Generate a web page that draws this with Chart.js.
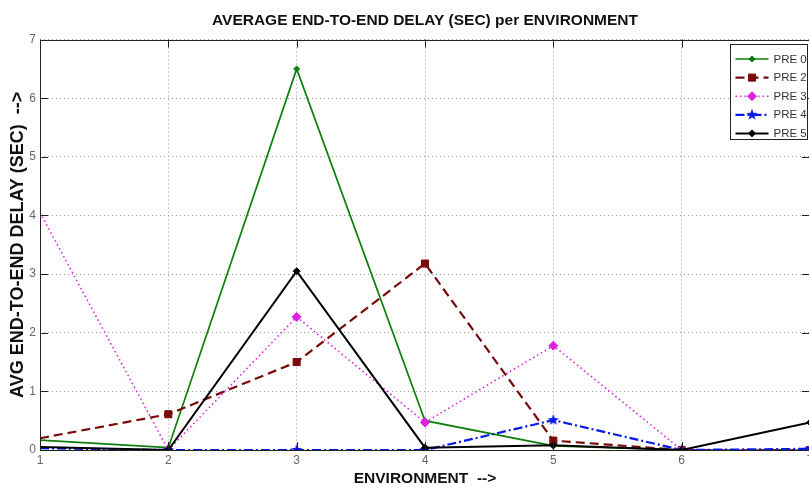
<!DOCTYPE html>
<html>
<head>
<meta charset="utf-8">
<script src="https://cdn.jsdelivr.net/npm/chart.js@4/dist/chart.umd.min.js"></script>
<style>
  html, body { margin: 0; padding: 0; background: #fff; overflow: hidden; }
  #wrap { width: 817px; height: 492px; }
</style>
</head>
<body>
<div id="wrap"><canvas id="c" width="817" height="492"></canvas></div>
<script>
// Average end-to-end delay (seconds) for each environment
const environments = [1, 2, 3, 4, 5, 6, 7];
const pre0 = [0.17, 0.04, 6.5, 0.5, 0.07, 0, 0];
const pre2 = [0.2, 0.61, 1.5, 3.18, 0.16, 0, 0];
const pre3 = [4.05, 0, 2.27, 0.47, 1.78, 0, 0];
const pre4 = [0.03, 0, 0, 0, 0.51, 0, 0.02];
const pre5 = [0.05, 0, 3.05, 0.04, 0.08, 0, 0.47];
const seriesNames = ['PRE 0', 'PRE 2', 'PRE 3', 'PRE 4', 'PRE 5'];
const yTicks = [0, 1, 2, 3, 4, 5, 6, 7];

const FONT = "'Liberation Sans', Arial, sans-serif";

// filled five-pointed star marker
function pentagram(color, r) {
  const s = Math.ceil(r * 2 + 2);
  const cv = document.createElement('canvas');
  cv.width = s; cv.height = s;
  const g = cv.getContext('2d');
  g.fillStyle = color;
  g.beginPath();
  for (let i = 0; i < 10; i++) {
    const rr = i % 2 === 0 ? r : r * 0.42;
    const a = -Math.PI / 2 + i * Math.PI / 5;
    const px = s / 2 + rr * Math.cos(a), py = s / 2 + rr * Math.sin(a);
    if (i === 0) g.moveTo(px, py); else g.lineTo(px, py);
  }
  g.closePath();
  g.fill();
  return cv;
}

const toPoints = vals => environments.map((e, i) => ({ x: e, y: vals[i] }));
const hideFirst = r => ctx => (ctx.dataIndex === 0 ? 0 : r);

const datasets = [
  { label: seriesNames[0], data: toPoints(pre0), borderColor: '#0a800a', backgroundColor: '#0a800a',
    borderWidth: 1.7, pointStyle: 'rectRot', pointRadius: hideFirst(3), order: 5 },
  { label: seriesNames[1], data: toPoints(pre2), borderColor: '#7a0a0a', backgroundColor: '#7a0a0a',
    borderWidth: 2.2, borderDash: [9, 5], pointStyle: 'rect', pointRadius: hideFirst(5), order: 4 },
  { label: seriesNames[2], data: toPoints(pre3), borderColor: '#e020e0', backgroundColor: '#e020e0',
    borderWidth: 1.6, borderDash: [1.5, 3], pointStyle: 'rectRot', pointRadius: hideFirst(4.5), order: 3 },
  { label: seriesNames[3], data: toPoints(pre4), borderColor: '#0a1ae6', backgroundColor: '#0a1ae6',
    borderWidth: 2.2, borderDash: [9, 3, 2, 3], pointStyle: pentagram('#0a1ae6', 6), pointRadius: hideFirst(6), order: 2 },
  { label: seriesNames[4], data: toPoints(pre5), borderColor: '#000', backgroundColor: '#000',
    borderWidth: 2, pointStyle: 'rectRot', pointRadius: hideFirst(3.5), order: 1 }
];
datasets.forEach(d => { d.tension = 0; d.fill = false; d.pointBorderWidth = 1; });

// axes frame with inward tick marks
const framePlugin = {
  id: 'frame',
  afterDatasetsDraw(chart) {
    const { ctx, chartArea: a, scales: { x, y } } = chart;
    ctx.save();
    ctx.strokeStyle = '#222';
    ctx.lineWidth = 1;
    ctx.setLineDash([]);
    ctx.strokeRect(Math.round(a.left) + 0.5, Math.round(a.top) + 0.5,
      Math.round(a.right - a.left), Math.round(a.bottom - a.top));
    const len = 8;
    ctx.beginPath();
    environments.forEach(v => {
      const px = Math.round(x.getPixelForValue(v)) + 0.5;
      ctx.moveTo(px, a.bottom); ctx.lineTo(px, a.bottom - len);
      ctx.moveTo(px, a.top); ctx.lineTo(px, a.top + len);
    });
    yTicks.forEach(v => {
      const py = Math.round(y.getPixelForValue(v)) + 0.5;
      ctx.moveTo(a.left, py); ctx.lineTo(a.left + len, py);
      ctx.moveTo(a.right, py); ctx.lineTo(a.right - len, py);
    });
    ctx.stroke();
    ctx.restore();
  }
};

// boxed legend with line samples and markers
const legendPlugin = {
  id: 'boxLegend',
  afterDraw(chart) {
    const { ctx, chartArea: a } = chart;
    const bw = 77, bh = 95;
    const bx = 730.5, by = Math.round(a.top + 4) + 0.5;
    ctx.save();
    ctx.fillStyle = '#fff';
    ctx.fillRect(bx, by, bw, bh);
    ctx.strokeStyle = '#222';
    ctx.lineWidth = 1;
    ctx.strokeRect(bx, by, bw, bh);
    chart.data.datasets.forEach((ds, i) => {
      const cy = by + 14.5 + i * 18.6;
      const x0 = bx + 5, x1 = bx + 38;
      ctx.save();
      ctx.strokeStyle = ds.borderColor;
      ctx.lineWidth = ds.borderWidth;
      ctx.setLineDash(ds.borderDash || []);
      ctx.beginPath();
      ctx.moveTo(x0, cy); ctx.lineTo(x1, cy);
      ctx.stroke();
      ctx.setLineDash([]);
      ctx.fillStyle = ds.backgroundColor;
      ctx.lineWidth = 1;
      const r = typeof ds.pointRadius === 'function' ? ds.pointRadius({ dataIndex: 1 }) : ds.pointRadius;
      Chart.helpers.drawPoint(ctx, { pointStyle: ds.pointStyle, radius: r, rotation: 0, borderWidth: 1 }, (x0 + x1) / 2, cy);
      ctx.restore();
      ctx.fillStyle = '#333';
      ctx.font = '11.5px ' + FONT;
      ctx.textBaseline = 'middle';
      ctx.textAlign = 'left';
      ctx.fillText(ds.label, x1 + 5, cy + 0.5);
    });
    ctx.restore();
  }
};

new Chart(document.getElementById('c'), {
  type: 'line',
  data: { datasets },
  plugins: [framePlugin, legendPlugin],
  options: {
    responsive: false,
    animation: false,
    layout: { padding: { left: 0, right: 2, top: 0, bottom: 0 } },
    plugins: {
      legend: { display: false },
      tooltip: { enabled: false },
      title: {
        display: true,
        fullSize: false,
        text: 'AVERAGE END-TO-END DELAY (SEC) per ENVIRONMENT',
        color: '#111',
        font: { family: FONT, size: 15.5, weight: 'bold' },
        padding: { top: 11, bottom: 10 }
      }
    },
    scales: {
      x: {
        type: 'linear',
        min: 1, max: 7,
        afterFit: s => { s.height = 42; },
        afterBuildTicks: s => { s.ticks = environments.map(v => ({ value: v })); },
        ticks: { color: '#666', font: { family: FONT, size: 12 }, padding: 3, maxRotation: 0 },
        grid: { color: '#9a9a9a', lineWidth: 1, drawTicks: false },
        border: { display: false, dash: [1, 3] },
        title: {
          display: true, text: 'ENVIRONMENT  -->', color: '#111',
          font: { family: FONT, size: 15.5, weight: 'bold' },
          padding: { top: 0, bottom: 4 }
        }
      },
      y: {
        min: 0, max: 7,
        afterFit: s => { s.width = 40; },
        afterBuildTicks: s => { s.ticks = yTicks.map(v => ({ value: v })); },
        ticks: { color: '#666', font: { family: FONT, size: 12 }, padding: 4 },
        grid: { color: '#9a9a9a', lineWidth: 1, drawTicks: false },
        border: { display: false, dash: [1, 3] },
        title: {
          display: true, text: 'AVG END-TO-END DELAY (SEC)  -->', color: '#111',
          font: { family: FONT, size: 18, weight: 'bold' },
          padding: { top: 7, bottom: 0 }
        }
      }
    }
  }
});
</script>
</body>
</html>
